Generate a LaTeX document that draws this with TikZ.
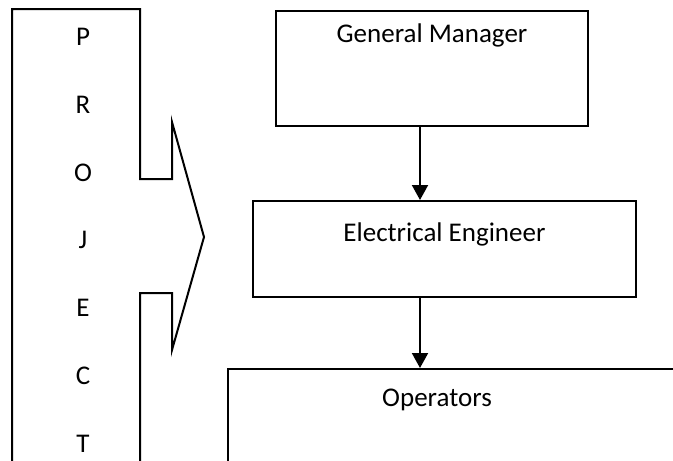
\documentclass[tikz,border=0pt]{standalone}
\usepackage{fontspec}
\setmainfont{Carlito}
\usetikzlibrary{arrows.meta}

\begin{document}
\begin{tikzpicture}[x=1pt,y=-1pt,
  every node/.style={font=\fontsize{27}{32}\selectfont},
  box/.style={draw,line width=2pt,rectangle,inner sep=0pt,align=center},
  flow/.style={line width=2pt,-{Triangle[length=15pt,width=16pt]}}]
\clip (0,0) rectangle (673,461);
% project banner with arrow
\draw[line width=2pt,line join=miter] (12,480) -- (12,9) -- (140,9) -- (140,179) -- (172,179) -- (172,122)
	-- (204,237) -- (172,350) -- (172,293) -- (140,293) -- (140,480);
\foreach \l [count=\i] in {P,R,O,J,E,C,T}
	\node[inner sep=0pt] (let\i) at (83,{37+67.8*(\i-1)}) {\l};
% chain of command
\node[box, minimum width=312pt, text height=31pt, text depth=84pt] (gm) at (432,68.5)
	{General Manager};
\node[box, minimum width=383pt, text height=40pt, text depth=56pt] (ee) at (444.5,249)
	{Electrical Engineer};
\node[box, minimum width=500pt, minimum height=200pt] (ops) at (478,469) {};
	\node (opstxt) at (437,400) {Operators};
\draw[flow] ([xshift=-12pt]gm.south) -- ([xshift=-12pt]gm.south |- ee.north);
\draw[flow] ([xshift=-24.5pt]ee.south) -- ([xshift=-24.5pt]ee.south |- ops.north);
\end{tikzpicture}
\end{document}
